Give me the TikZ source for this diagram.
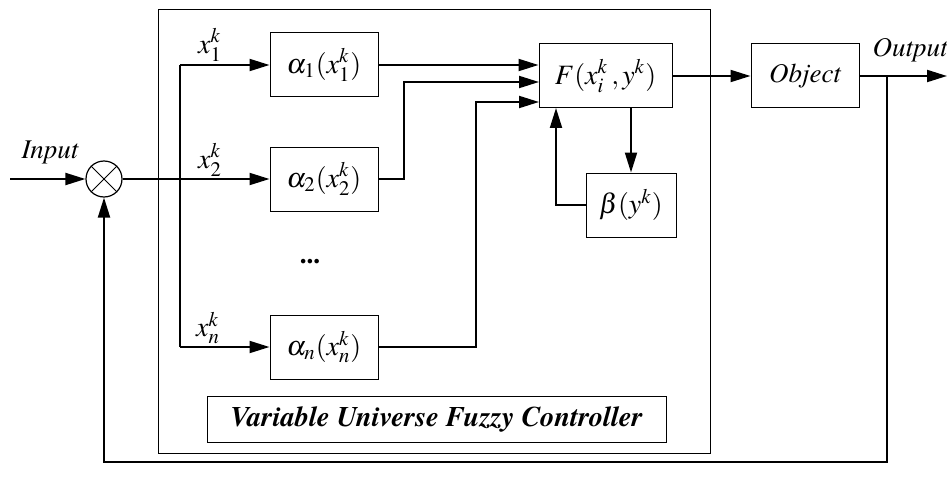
\documentclass[tikz,border=0pt]{standalone}
\usepackage{mathptmx}
\usepackage[no-math]{fontspec}
\setmainfont{texgyretermes}[
  Extension=.otf,
  UprightFont=*-regular,
  ItalicFont=*-italic,
  BoldFont=*-bold,
  BoldItalicFont=*-bolditalic]
\usetikzlibrary{arrows.meta}
\begin{document}
\begin{tikzpicture}[x=0.5pt, y=-0.5pt,
  blk/.style={draw, line width=0.5pt, minimum width=54pt, minimum height=32pt, inner sep=0pt, font=\fontsize{14}{16}\selectfont},
  arr/.style={line width=1pt, -{Triangle[length=10pt, width=6pt]}},
  wire/.style={line width=1pt},
  lbl/.style={font=\fontsize{13.5}{16}\selectfont\itshape, inner sep=0pt}]
\useasboundingbox (0,0) rectangle (947,492);
\draw[line width=0.5pt] (158,10) rectangle (710,453);
\node[circle, draw, line width=0.6pt, minimum size=18pt, inner sep=0pt] (sum) at (104,179){};
\draw[line width=0.5pt] (sum.45) -- (sum.225);
\draw[line width=0.5pt] (sum.135) -- (sum.315);
\node[blk] (a1) at (324,65){$\alpha_1(x_1^k)$};
\node[blk] (a2) at (324,179){$\alpha_2(x_2^k)$};
\node[blk] (an) at (324,347){$\alpha_n(x_n^k)$};
\node[blk, minimum width=66.5pt] (F) at (605.5,76){$F(x_i^k\,,y^k)$};
\node[blk, minimum width=45pt] (beta) at (631,205){$\beta(y^k)$};
\node[blk, font=\fontsize{13.5}{16}\selectfont] (obj) at (805,76){\itshape Object};
\node[blk, minimum width=229.5pt, minimum height=23pt, font=\fontsize{14.2}{16}\selectfont\bfseries\itshape] (vufc) at (436.5,419){Variable Universe Fuzzy Controller};
\node[font=\fontsize{13.5}{16}\selectfont\bfseries] (dots) at (310,262){...};
\node[lbl] (lin) at (50,152){Input};
\node[lbl] (lout) at (910,50){Output};
\node[lbl, font=\fontsize{14}{16}\selectfont] (lx1) at (210,45){$x_1^k$};
\node[lbl, font=\fontsize{14}{16}\selectfont] (lx2) at (210,160){$x_2^k$};
\node[lbl, font=\fontsize{14}{16}\selectfont] (lxn) at (208,328){$x_n^k$};
\coordinate (in) at (10,179);
\coordinate (bt) at (180,65);
\coordinate (bb) at (180,347);
\coordinate (f2) at (539,82);
\coordinate (f3) at (539,102);
\coordinate (fb) at (556,108);
\coordinate (out) at (947,76);
\coordinate (br) at (887,76);
\draw[arr] (in) -- (sum);
\draw[arr] (sum) -- (a2);
\draw[wire] (bt) -- (bb);
\draw[arr] (bt) -- (a1);
\draw[arr] (bb) -- (an);
\draw[arr] (a1) -- (a1 -| F.west);
\draw[arr] (a2.east) -- ++(25,0) |- (f2);
\draw[arr] (an.east) -- ++(97,0) |- (f3);
\draw[arr] (F.south -| beta.north) -- (beta.north);
\draw[arr] (beta.west) -| (fb);
\draw[arr] (F) -- (obj);
\draw[arr] (obj) -- (out);
\draw[arr] (br) -- (887,462) -| (sum.south);
\end{tikzpicture}
\end{document}
